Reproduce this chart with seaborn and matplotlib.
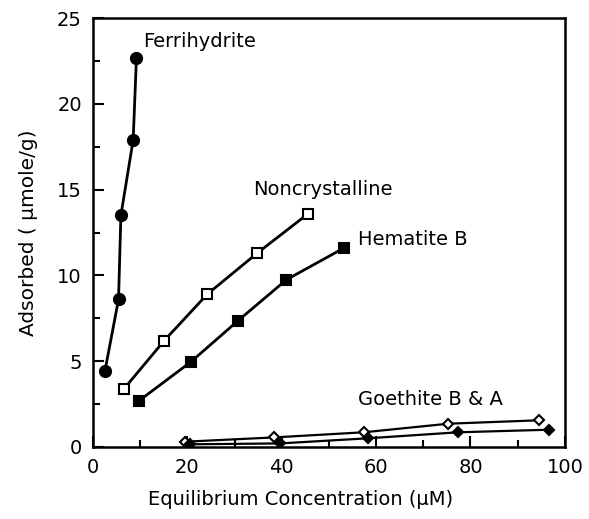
import pandas as pd
import matplotlib
matplotlib.use("Agg")
import matplotlib.pyplot as plt
import seaborn as sb

# values
ferri_x = [2.5, 5.4, 5.9, 8.5, 9.2]
ferri_y = [4.4, 8.6, 13.5, 17.9, 22.7]
noncr_x = [6.6, 15.1, 24.2, 34.8, 45.6]
noncr_y = [3.4, 6.2, 8.9, 11.3, 13.6]
hemB_x = [9.8, 20.7, 30.7, 41.0, 53.2]
hemB_y = [2.7, 4.95, 7.35, 9.75, 11.6]
goeB_x = [19.5, 38.3, 57.4, 75.3, 94.5]
goeB_y = [0.3, 0.55, 0.85, 1.35, 1.55]
goeA_x = [20.6, 39.6, 58.3, 77.4, 96.7]
goeA_y = [0.15, 0.2, 0.5, 0.85, 1.0]

series = [
    ("Ferrihydrite", ferri_x, ferri_y, "o", "black", 8),
    ("Noncrystalline", noncr_x, noncr_y, "s", "white", 6.5),
    ("Hematite B", hemB_x, hemB_y, "s", "black", 6.5),
    ("Goethite B", goeB_x, goeB_y, "D", "white", 5),
    ("Goethite A", goeA_x, goeA_y, "D", "black", 5),
]

sb.set_style("ticks")
plt.rcParams["font.family"] = ["DejaVu Sans"]
plt.rcParams["text.color"] = "black"
plt.rcParams["axes.labelcolor"] = "black"
plt.rcParams["xtick.color"] = "black"
plt.rcParams["ytick.color"] = "black"

fig = plt.figure(figsize=(5.89, 5.19), dpi=100)
ax = fig.add_axes([0.158, 0.139, 0.801, 0.826])

for name, xs, ys, mk, fc, ms in series:
    df = pd.DataFrame({"x": xs, "y": ys})
    lw = 2.0 if name in ("Ferrihydrite", "Noncrystalline", "Hematite B") else 1.6
    sb.lineplot(data=df, x="x", y="y", ax=ax, color="black", lw=lw, marker=mk,
                markersize=ms, markerfacecolor=fc, markeredgecolor="black",
                markeredgewidth=1.5, sort=False, legend=False)

ax.text(10.6, 23.3, "Ferrihydrite", fontsize=14, va="baseline")
ax.text(33.9, 14.7, "Noncrystalline", fontsize=14, va="baseline")
ax.text(56.2, 11.8, "Hematite B", fontsize=14, va="baseline")
ax.text(56.1, 2.45, "Goethite B & A", fontsize=14, va="baseline")

ax.set_xlim(0, 100)
ax.set_ylim(0, 25)
ax.set_xticks([0, 20, 40, 60, 80, 100])
ax.set_xticks([10, 30, 50, 70, 90], minor=True)
ax.set_yticks([0, 5, 10, 15, 20, 25])
ax.set_yticks([2.5, 7.5, 12.5, 17.5, 22.5], minor=True)
ax.tick_params(which="both", direction="in", width=1.5, labelsize=14, pad=8)
ax.tick_params(which="major", length=8)
ax.tick_params(which="minor", length=5)
for sp in ax.spines.values():
    sp.set_linewidth(1.8)
    sp.set_color("black")

ax.set_xlabel("Equilibrium Concentration (\u00b5M)", fontsize=14)
ax.set_ylabel("Adsorbed ( \u00b5mole/g)", fontsize=14.5, labelpad=14)
ax.xaxis.set_label_coords(0.44, -0.1)

fig.savefig("out.png", dpi=100)
